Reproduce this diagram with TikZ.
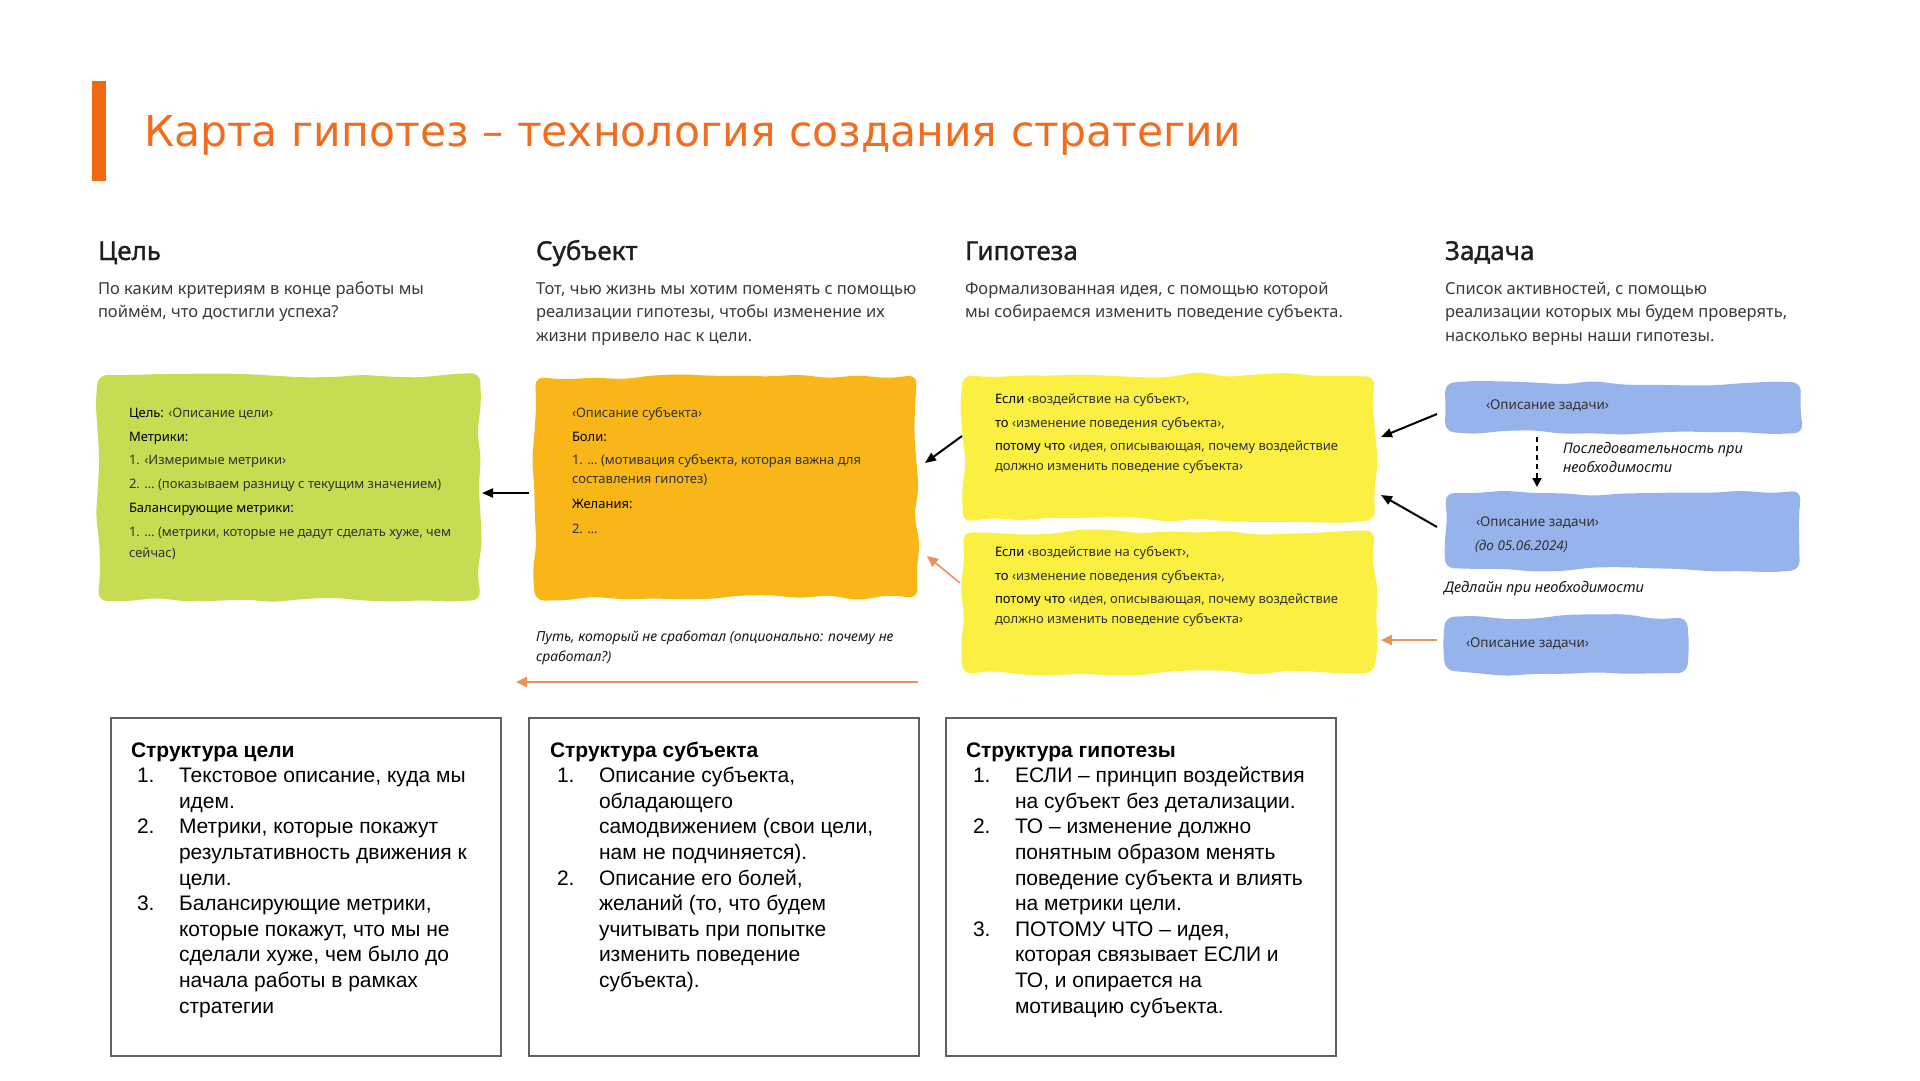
\documentclass[tikz,border=0pt]{standalone}
\usepackage{fontspec}
\setmainfont{Liberation Sans}
\newfontfamily\titlefont{DejaVu Sans}
\newfontfamily\headfont{Noto Sans}[FakeBold=1.2]
\newfontfamily\boxfont{Noto Sans}
\usetikzlibrary{arrows.meta,calc}
\definecolor{titleor}{RGB}{242,108,30}
\definecolor{baror}{RGB}{240,104,16}
\definecolor{greenbox}{RGB}{198,220,82}
\definecolor{orangebox}{RGB}{249,182,24}
\definecolor{yellowbox}{RGB}{251,239,66}
\definecolor{bluebox}{RGB}{151,179,236}
\definecolor{arrowor}{RGB}{232,146,92}
\definecolor{framegray}{RGB}{96,96,96}
\definecolor{desccol}{RGB}{58,58,58}
\definecolor{boxtext}{RGB}{50,50,50}
\newcommand\bkw[1]{{\color{black}\bfseries #1}}
% #1 node, #2 colour, #3 segments along width, #4 segments along height, #5 = #4-1
\newcommand\wavybox[5]{%
  \fill[#2, rounded corners=9pt] (#1.north west)
    \foreach \k in {1,...,#3} { -- ($(#1.north west)!\k/#3!(#1.north east)+(0,{3*rand})$) }
    \foreach \k in {1,...,#4} { -- ($(#1.north east)!\k/#4!(#1.south east)+({3*rand},0)$) }
    \foreach \k in {1,...,#3} { -- ($(#1.south east)!\k/#3!(#1.south west)+(0,{3*rand})$) }
    \foreach \k in {1,...,#5} { -- ($(#1.south west)!\k/#4!(#1.north west)+({3*rand},0)$) }
    -- cycle;}
\begin{document}
\begin{tikzpicture}[x=1pt,y=-1pt,
  every node/.style={inner sep=0pt, outer sep=0pt},
  boxshape/.style={minimum width=#1},
  hd/.style={anchor=base west, font=\headfont\fontsize{26}{30}\selectfont, text={black!88}},
  ds/.style={anchor=base west, font=\boxfont\fontsize{16.5}{20}\selectfont, text=desccol},
  bx/.style={anchor=base west, font=\boxfont\fontsize{13}{16}\selectfont, text=boxtext},
  tk/.style={anchor=base west, font=\boxfont\fontsize{13.5}{16}\selectfont, text=boxtext},
  note/.style={anchor=base west, font=\boxfont\itshape\fontsize{14.6}{17}\selectfont, text=black!90},
  bt/.style={anchor=base west, font=\fontsize{21}{25}\selectfont, text=black},
  frame/.style={draw=framegray, line width=2pt, minimum width=390pt, minimum height=338pt},
  blk/.style={draw=black, line width=2pt, -{Triangle[length=11pt,width=9pt]}},
  orarr/.style={draw=arrowor, line width=2.5pt, -{Triangle[length=11pt,width=10pt]}},
  dsh/.style={draw=black, line width=1.8pt, dash pattern=on 5pt off 4pt, -{Triangle[length=9pt,width=9pt]}}
]
\pgfmathsetseed{11}
\path[use as bounding box, fill=white] (0,0) rectangle (1920,1080);

% title
\node[fill=baror, minimum width=14pt, minimum height=100pt] (bar) at (99,131) {};
\node[anchor=base west, font=\titlefont\fontsize{42.5}{50}\selectfont, text=titleor] (title) at (144,146) {Карта гипотез – технология создания стратегии};

% headings
\node[hd] (h1) at (98,260) {Цель};
\node[hd] (h2) at (536,260) {Субъект};
\node[hd] (h3) at (965,260) {Гипотеза};
\node[hd] (h4) at (1445,260) {Задача};

% descriptions
\foreach \t [count=\i from 0] in {{По каким критериям в конце работы мы},{поймём, что достигли успеха?}}
  \node[ds] (d1l\i) at (98,{294+23.7*\i}) {\t};
\foreach \t [count=\i from 0] in {{Тот, чью жизнь мы хотим поменять с помощью},{реализации гипотезы, чтобы изменение их},{жизни привело нас к цели.}}
  \node[ds] (d2l\i) at (536,{294+23.7*\i}) {\t};
\foreach \t [count=\i from 0] in {{Формализованная идея, с помощью которой},{мы собираемся изменить поведение субъекта.}}
  \node[ds] (d3l\i) at (965,{294+23.7*\i}) {\t};
\foreach \t [count=\i from 0] in {{Список активностей, с помощью},{реализации которых мы будем проверять,},{насколько верны наши гипотезы.}}
  \node[ds] (d4l\i) at (1445,{294+23.7*\i}) {\t};

% coloured boxes (node frames, then wavy fills)
\node[minimum width=382pt, minimum height=225pt] (goalbox) at (289,487.5) {};
\node[minimum width=382pt, minimum height=221pt] (subbox) at (726,487.5) {};
\node[minimum width=412pt, minimum height=145pt] (hypa) at (1169,447.5) {};
\node[minimum width=412pt, minimum height=141pt] (hypb) at (1169,602.5) {};
\node[minimum width=356pt, minimum height=50pt] (taska) at (1623,408) {};
\node[minimum width=356pt, minimum height=77pt] (taskb) at (1623,531.5) {};
\node[minimum width=242pt, minimum height=56pt] (taskc) at (1566,645) {};
\wavybox{goalbox}{greenbox}{13}{8}{7}
\wavybox{subbox}{orangebox}{13}{8}{7}
\wavybox{hypa}{yellowbox}{14}{5}{4}
\wavybox{hypb}{yellowbox}{14}{5}{4}
\wavybox{taska}{bluebox}{12}{2}{1}
\wavybox{taskb}{bluebox}{12}{3}{2}
\wavybox{taskc}{bluebox}{8}{2}{1}

% goal box text
\node[bx] (g0) at (129,417) {\bkw{Цель:} ‹Описание цели›};
\node[bx] (g1) at (129,441) {\bkw{Метрики:}};
\node[bx] (g2) at (129,464.5) {1. ‹Измеримые метрики›};
\node[bx] (g3) at (129,488) {2. … (показываем разницу с текущим значением)};
\node[bx] (g4) at (129,512) {\bkw{Балансирующие метрики:}};
\node[bx] (g5) at (129,536) {1. … (метрики, которые не дадут сделать хуже, чем};
\node[bx] (g6) at (129,557) {сейчас)};

% subject box text
\node[bx] (s0) at (572,417) {‹Описание субъекта›};
\node[bx] (s1) at (572,441) {\bkw{Боли:}};
\node[bx] (s2) at (572,464.5) {1. … (мотивация субъекта, которая важна для};
\node[bx] (s3) at (572,483.5) {составления гипотез)};
\node[bx] (s4) at (572,508) {\bkw{Желания:}};
\node[bx] (s5) at (572,533) {2. …};

% hypothesis texts
\foreach \b/\y in {a/403,b/556}{
  \node[bx] (hy\b0) at (995,\y) {\bkw{Если} ‹воздействие на субъект›,};
  \node[bx] (hy\b1) at (995,{\y+24}) {\bkw{то} ‹изменение поведения субъекта›,};
  \node[bx] (hy\b2) at (995,{\y+47.5}) {\bkw{потому что} ‹идея, описывающая, почему воздействие};
  \node[bx] (hy\b3) at (995,{\y+67}) {должно изменить поведение субъекта›};
}

% task texts
\node[tk] (t1) at (1486,409.5) {‹Описание задачи›};
\node[tk] (t2) at (1476,526) {‹Описание задачи›};
\node[tk, font=\boxfont\itshape\fontsize{13.5}{16}\selectfont] (t2d) at (1475,550.5) {(до 05.06.2024)};
\node[tk] (t3) at (1466,647.5) {‹Описание задачи›};

% notes
\node[note] (seq1) at (1563,453.5) {Последовательность при};
\node[note] (seq2) at (1563,472.5) {необходимости};
\node[note] (dead) at (1444,592.5) {Дедлайн при необходимости};
\node[note, font=\boxfont\itshape\fontsize{13.9}{16}\selectfont] (fail1) at (536,641.5) {Путь, который не сработал (опционально: почему не};
\node[note, font=\boxfont\itshape\fontsize{13.9}{16}\selectfont] (fail2) at (536,661) {сработал?)};

% arrows
\draw[blk] ($(subbox.west)+(-6,5.5)$) -- ($(goalbox.east)+(2,5.5)$);
\draw[blk] ($(hypa.west)+(-1,-11.5)$) -- ($(subbox.east)+(8,-24.5)$);
\draw[orarr, line width=1.6pt] ($(hypb.west)+(-3,-19.5)$) -- ($(subbox.east)+(10,68.5)$);
\draw[blk] ($(taska.west)+(-8,6)$) -- ($(hypa.east)+(6,-10.5)$);
\draw[blk] ($(taskb.west)+(-8,-4.5)$) -- ($(hypa.east)+(6,47.5)$);
\draw[orarr] ($(taskc.west)+(-8,-5)$) -- ($(hypb.east)+(6,37.5)$);
\draw[dsh] ($(taska.south)+(-86,4)$) -- ($(taskb.north)+(-86,-6)$);
\coordinate (failR) at (918,682);
\coordinate (failL) at (516,682);
\draw[orarr] (failR) -- (failL);

% bottom frames
\node[frame] (fr1) at (305.5,886.5) {};
\node[frame] (fr2) at (724.3,886.5) {};
\node[frame] (fr3) at (1140.7,886.5) {};

% frame 1
\node[bt, font=\bfseries\fontsize{21}{25}\selectfont] (f1t) at (131,757) {Структура цели};
\foreach \t [count=\i from 1] in {{Текстовое описание, куда мы},{идем.},{Метрики, которые покажут},{результативность движения к},{цели.},{Балансирующие метрики,},{которые покажут, что мы не},{сделали хуже, чем было до},{начала работы в рамках},{стратегии}}
  \node[bt] (f1l\i) at (179,{757+25.6*\i}) {\t};
\node[bt] (f1n1) at (137,{757+25.6*1}) {1.};
\node[bt] (f1n2) at (137,{757+25.6*3}) {2.};
\node[bt] (f1n3) at (137,{757+25.6*6}) {3.};

% frame 2
\node[bt, font=\bfseries\fontsize{21}{25}\selectfont] (f2t) at (550,757) {Структура субъекта};
\foreach \t [count=\i from 1] in {{Описание субъекта,},{обладающего},{самодвижением (свои цели,},{нам не подчиняется).},{Описание его болей,},{желаний (то, что будем},{учитывать при попытке},{изменить поведение},{субъекта).}}
  \node[bt] (f2l\i) at (599,{757+25.6*\i}) {\t};
\node[bt] (f2n1) at (557,{757+25.6*1}) {1.};
\node[bt] (f2n2) at (557,{757+25.6*5}) {2.};

% frame 3
\node[bt, font=\bfseries\fontsize{21}{25}\selectfont] (f3t) at (966,757) {Структура гипотезы};
\foreach \t [count=\i from 1] in {{ЕСЛИ – принцип воздействия},{на субъект без детализации.},{ТО – изменение должно},{понятным образом менять},{поведение субъекта и влиять},{на метрики цели.},{ПОТОМУ ЧТО – идея,},{которая связывает ЕСЛИ и},{ТО, и опирается на},{мотивацию субъекта.}}
  \node[bt] (f3l\i) at (1015,{757+25.6*\i}) {\t};
\node[bt] (f3n1) at (973,{757+25.6*1}) {1.};
\node[bt] (f3n2) at (973,{757+25.6*3}) {2.};
\node[bt] (f3n3) at (973,{757+25.6*7}) {3.};
\end{tikzpicture}
\end{document}
